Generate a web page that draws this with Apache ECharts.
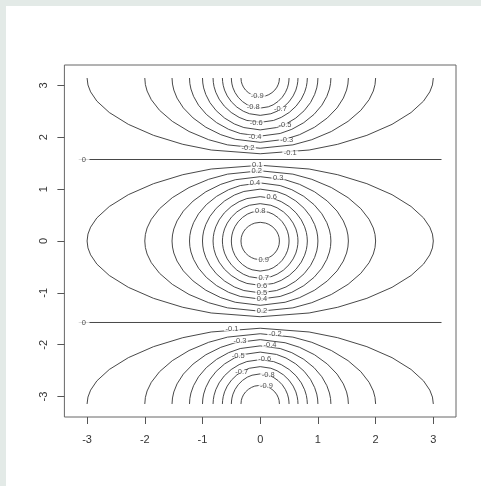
<!DOCTYPE html>
<html>
<head>
<meta charset="utf-8">
<script src="https://cdn.jsdelivr.net/npm/echarts@6/dist/echarts.min.js"></script>
<style>
html,body{margin:0;padding:0;width:481px;height:486px;overflow:hidden;background:#e3eae7}
#chart{position:absolute;left:6px;top:6px;width:475px;height:480px;background:#fff}
</style>
</head>
<body>
<div id="chart"></div>
<script>
// contour levels (centre region positive, top/bottom regions negative)
const levels = [0.1, 0.2, 0.3, 0.4, 0.5, 0.6, 0.7, 0.8, 0.9];

// half-contours (quadrant x >= 0), one row per level
const contourHalfX = [
  [0, 0.848, 1.342, 1.849, 2.285, 2.615, 2.830, 2.939, 2.985, 3.000],
  [0, 0.566, 0.894, 1.233, 1.523, 1.744, 1.887, 1.960, 1.990, 2.000],
  [0, 0.432, 0.683, 0.942, 1.163, 1.332, 1.441, 1.497, 1.520, 1.528],
  [0, 0.346, 0.548, 0.755, 0.933, 1.068, 1.155, 1.200, 1.219, 1.225],
  [0, 0.283, 0.447, 0.616, 0.762, 0.872, 0.943, 0.980, 0.995, 1.000],
  [0, 0.231, 0.365, 0.503, 0.622, 0.712, 0.770, 0.800, 0.812, 0.817],
  [0, 0.185, 0.293, 0.404, 0.499, 0.571, 0.618, 0.641, 0.651, 0.655],
  [0, 0.141, 0.224, 0.308, 0.381, 0.436, 0.472, 0.490, 0.497, 0.500],
  [0, 0.094, 0.149, 0.205, 0.254, 0.291, 0.314, 0.327, 0.332, 0.333]
];
// y of the positive (centre) contours at those x
const innerHalfY = [
  [1.460, 1.388, 1.278, 1.105, 0.893, 0.665, 0.446, 0.267, 0.133, 0],
  [1.354, 1.289, 1.189, 1.031, 0.835, 0.623, 0.418, 0.251, 0.125, 0],
  [1.240, 1.181, 1.092, 0.949, 0.770, 0.576, 0.387, 0.232, 0.116, 0],
  [1.120, 1.069, 0.989, 0.861, 0.701, 0.525, 0.353, 0.212, 0.106, 0],
  [1.000, 0.955, 0.886, 0.773, 0.630, 0.473, 0.318, 0.191, 0.096, 0],
  [0.855, 0.818, 0.759, 0.664, 0.542, 0.407, 0.274, 0.165, 0.083, 0],
  [0.720, 0.689, 0.640, 0.561, 0.459, 0.345, 0.233, 0.140, 0.070, 0],
  [0.580, 0.555, 0.517, 0.453, 0.372, 0.280, 0.189, 0.114, 0.057, 0],
  [0.360, 0.345, 0.321, 0.282, 0.232, 0.175, 0.119, 0.071, 0.036, 0]
];
// y of the negative (upper) contours at those x
const outerHalfY = [
  [1.682, 1.754, 1.864, 2.037, 2.249, 2.477, 2.696, 2.875, 3.009, 3.142],
  [1.788, 1.853, 1.953, 2.111, 2.307, 2.519, 2.724, 2.891, 3.017, 3.142],
  [1.902, 1.961, 2.050, 2.193, 2.372, 2.566, 2.755, 2.910, 3.026, 3.142],
  [2.022, 2.073, 2.153, 2.281, 2.441, 2.617, 2.789, 2.930, 3.036, 3.142],
  [2.142, 2.187, 2.256, 2.369, 2.512, 2.669, 2.824, 2.951, 3.046, 3.142],
  [2.287, 2.324, 2.383, 2.478, 2.600, 2.735, 2.868, 2.977, 3.059, 3.142],
  [2.422, 2.453, 2.502, 2.581, 2.683, 2.797, 2.909, 3.002, 3.072, 3.142],
  [2.562, 2.587, 2.625, 2.689, 2.770, 2.862, 2.953, 3.028, 3.085, 3.142],
  [2.782, 2.797, 2.821, 2.860, 2.910, 2.967, 3.023, 3.071, 3.106, 3.142]
];

// zero contour lines
const zeroLineY = [1.571, -1.571];
const zeroLineX = [-3.142, 3.142];

// contour labels [x, y, text]
const centerLabels = [
  [-0.05, 1.46, '0.1'], [-0.06, 1.355, '0.2'], [0.31, 1.22, '0.3'],
  [-0.09, 1.125, '0.4'], [0.20, 0.84, '0.6'], [0.0, 0.58, '0.8'],
  [0.06, -0.36, '0.9'], [0.06, -0.72, '0.7'], [0.03, -0.86, '0.6'],
  [0.03, -1.0, '0.5'], [0.03, -1.12, '0.4'], [0.03, -1.355, '0.2']
];
const topLabels = [
  [-0.05, 2.80, '-0.9'], [-0.12, 2.58, '-0.8'], [0.35, 2.55, '-0.7'],
  [-0.07, 2.27, '-0.6'], [0.43, 2.245, '-0.5'], [-0.09, 2.01, '-0.4'],
  [0.46, 1.95, '-0.3'], [-0.21, 1.785, '-0.2'], [0.52, 1.705, '-0.1']
];
const bottomLabels = [
  [0.11, -2.80, '-0.9'], [0.14, -2.58, '-0.8'], [-0.32, -2.52, '-0.7'],
  [0.08, -2.27, '-0.6'], [-0.38, -2.21, '-0.5'], [0.17, -2.01, '-0.4'],
  [-0.35, -1.93, '-0.3'], [0.26, -1.79, '-0.2'], [-0.49, -1.70, '-0.1']
];
const zeroLabels = [[-3.055, 1.571, '0'], [-3.055, -1.571, '0']];

const axisTicks = [-3, -2, -1, 0, 1, 2, 3];
const axisRange = 3.393;

function quarter(xs, ys) { return xs.map((x, i) => [x, ys[i]]); }
function closedLoop(xs, ys) {
  const q1 = quarter(xs, ys);
  const q4 = q1.slice().reverse().map(p => [p[0], -p[1]]);
  const q3 = q1.map(p => [-p[0], -p[1]]);
  const q2 = q1.slice().reverse().map(p => [-p[0], p[1]]);
  return q1.concat(q4.slice(1), q3.slice(1), q2.slice(1));
}
function arc(xs, ys, sign) {
  const q = quarter(xs, ys).map(p => [p[0], sign * p[1]]);
  const left = q.slice().reverse().map(p => [-p[0], p[1]]);
  return left.concat(q.slice(1));
}

const lineStyle = { color: '#333', width: 0.9 };
const series = [];
function addLine(data) {
  series.push({
    type: 'line', data: data, showSymbol: false, symbol: 'none', smooth: false,
    lineStyle: lineStyle, silent: true, animation: false, z: 2, clip: false
  });
}
levels.forEach((lv, i) => {
  addLine(closedLoop(contourHalfX[i], innerHalfY[i]));
  addLine(arc(contourHalfX[i], outerHalfY[i], 1));
  addLine(arc(contourHalfX[i], outerHalfY[i], -1));
});
zeroLineY.forEach(y => addLine([[zeroLineX[0], y], [zeroLineX[1], y]]));

function labelSeries(list, pad) {
  return {
    type: 'scatter', z: 5, silent: true, animation: false,
    symbolSize: 1, itemStyle: { color: 'rgba(0,0,0,0)' },
    data: list.map(l => ({ value: [l[0], l[1]], name: l[2] })),
    label: {
      show: true, position: 'inside', formatter: '{b}',
      fontFamily: 'Liberation Sans', fontSize: 7.5, color: '#222',
      backgroundColor: '#fff', padding: [0, pad], lineHeight: 4
    }
  };
}
series.push(labelSeries(centerLabels.concat(topLabels, bottomLabels), 1.5));
series.push(labelSeries(zeroLabels, 3.5));

const chart = echarts.init(document.getElementById('chart'), null, { renderer: 'canvas' });
function axis(extraLabel) {
  return {
    type: 'value', min: -axisRange, max: axisRange,
    axisLine: { show: false, onZero: false }, splitLine: { show: false },
    axisTick: { show: true, customValues: axisTicks, length: 7, lineStyle: { color: '#555', width: 1 } },
    axisLabel: Object.assign({ customValues: axisTicks, fontFamily: 'Liberation Sans', fontSize: 11, color: '#333', formatter: v => String(v) }, extraLabel)
  };
}
chart.setOption({
  animation: false,
  backgroundColor: '#fff',
  grid: { left: 58.4, top: 59, width: 391.6, height: 352, show: true, borderColor: '#666', borderWidth: 1, backgroundColor: 'transparent' },
  xAxis: axis({ margin: 17 }),
  yAxis: axis({ margin: 15, rotate: 90 }),
  series: series
});
</script>
</body>
</html>
